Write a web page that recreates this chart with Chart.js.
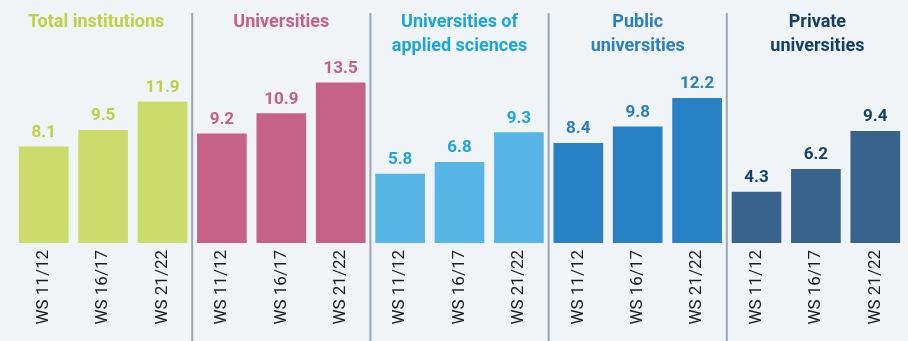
<!DOCTYPE html>
<html>
<head>
<meta charset="utf-8">
<script src="https://cdn.jsdelivr.net/npm/chart.js@4"></script>
<style>
  html, body { margin: 0; padding: 0; background: #f0f4f6; }
  #wrap { width: 908px; height: 341px; position: relative; }
</style>
</head>
<body>
<div id="wrap"><canvas id="chart"></canvas></div>
<script>
// Students per institution type, three winter semesters each
const groupTitles = [
    ['Total institutions'],
    ['Universities'],
    ['Universities of', 'applied sciences'],
    ['Public', 'universities'],
    ['Private', 'universities']
];
const semesters = ['WS 11/12', 'WS 16/17', 'WS 21/22'];

const totalInstitutions = [8.1, 9.5, 11.9];
const universities = [9.2, 10.9, 13.5];
const appliedSciences = [5.8, 6.8, 9.3];
const publicUniversities = [8.4, 9.8, 12.2];
const privateUniversities = [4.3, 6.2, 9.4];

// bar fill and text colour per group
const barColors = ['#cbdb6b', '#c56286', '#56b5e5', '#2880c5', '#37638c'];
const textColors = ['#bfd143', '#c65f88', '#1ba4df', '#2a7fc3', '#11416b'];

const series = [totalInstitutions, universities, appliedSciences, publicUniversities, privateUniversities];
const labels = [];
const values = [];
const colors = [];
series.forEach((s, g) => {
    s.forEach((v, i) => {
        labels.push(semesters[i]);
        values.push(v);
        colors.push(barColors[g]);
    });
});
const perGroup = semesters.length;

// --- value labels above the bars ---
const valueLabels = {
    id: 'valueLabels',
    afterDatasetsDraw(chart) {
        const ctx = chart.ctx;
        const meta = chart.getDatasetMeta(0);
        ctx.save();
        ctx.font = 'bold 17px Roboto';
        ctx.textAlign = 'center';
        ctx.textBaseline = 'alphabetic';
        meta.data.forEach((bar, i) => {
            ctx.fillStyle = textColors[Math.floor(i / perGroup)];
            ctx.fillText(values[i].toFixed(1), bar.x, bar.y - 10);
        });
        ctx.restore();
    }
};

// --- separators and group headings ---
const groupDecor = {
    id: 'groupDecor',
    afterDraw(chart) {
        const ctx = chart.ctx;
        const x = chart.scales.x;
        const edges = [0];
        for (let g = 1; g < groupTitles.length; g++) {
            const k = g * perGroup;
            edges.push((x.getPixelForValue(k - 1) + x.getPixelForValue(k)) / 2);
        }
        edges.push(chart.width);

        ctx.save();
        ctx.strokeStyle = '#9ba7b1';
        ctx.lineWidth = 2;
        for (let g = 1; g < edges.length - 1; g++) {
            ctx.beginPath();
            ctx.moveTo(edges[g], 13);
            ctx.lineTo(edges[g], chart.height);
            ctx.stroke();
        }

        ctx.font = 'bold 18px Roboto';
        ctx.textAlign = 'center';
        ctx.textBaseline = 'alphabetic';
        groupTitles.forEach((lines, g) => {
            const cx = (edges[g] + edges[g + 1]) / 2;
            ctx.fillStyle = textColors[g];
            lines.forEach((line, j) => ctx.fillText(line, cx, 27 + j * 24));
        });
        ctx.restore();
    }
};

const chart = new Chart(document.getElementById('chart').getContext('2d'), {
    type: 'bar',
    data: {
        labels: labels,
        datasets: [{
            data: values,
            backgroundColor: colors,
            borderWidth: 0,
            barThickness: 49
        }]
    },
    options: {
        responsive: true,
        maintainAspectRatio: false,
        animation: false,
        layout: { padding: { left: 14, right: 3, top: 65 } },
        scales: {
            y: { display: false, min: 0, max: 15 },
            x: {
                grid: { display: false, drawTicks: false },
                border: { display: false },
                ticks: {
                    autoSkip: false,
                    minRotation: 90,
                    maxRotation: 90,
                    padding: 7,
                    color: '#1c1c1c',
                    font: { family: 'Roboto', size: 17 }
                },
                afterFit(scale) { scale.height = 98; }
            }
        },
        plugins: {
            legend: { display: false },
            tooltip: { enabled: false }
        }
    },
    plugins: [valueLabels, groupDecor]
});
</script>
</body>
</html>
